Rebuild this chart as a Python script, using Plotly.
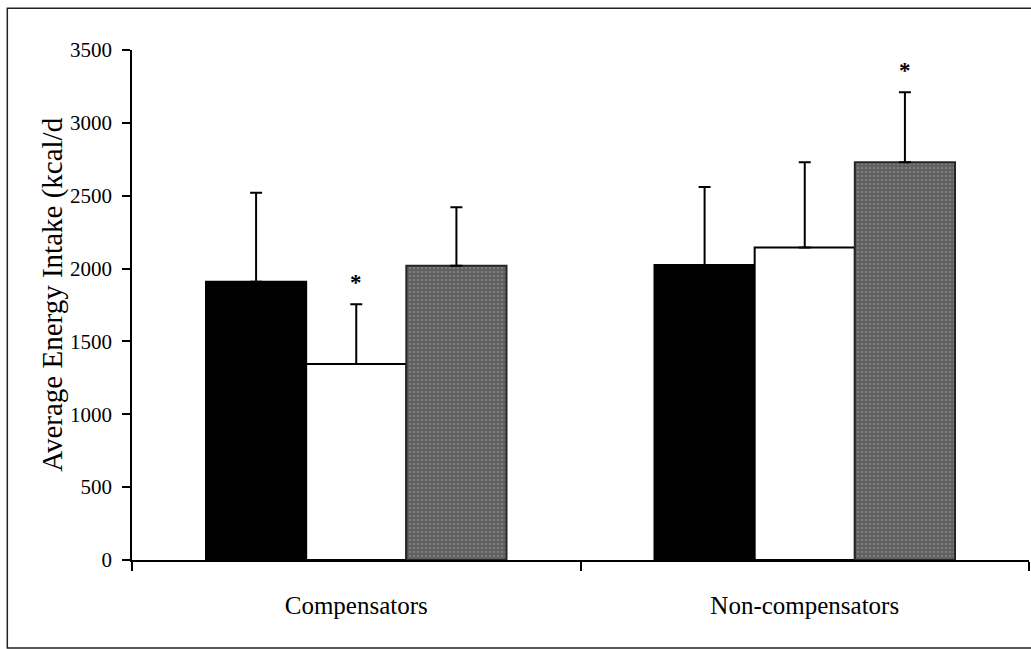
import plotly.graph_objects as go

categories = ["Compensators", "Non-compensators"]
series_names = ["Condition 1", "Condition 2", "Condition 3"]
black_vals = [1910, 2025]
black_sd = [610, 535]
white_vals = [1345, 2145]
white_sd = [410, 585]
gray_vals = [2020, 2730]
gray_sd = [400, 480]
y_ticks = [0, 500, 1000, 1500, 2000, 2500, 3000, 3500]

BARGAP = 0.33
FONT = "Liberation Serif, Times New Roman, serif"

fig = go.Figure()

specs = [
    (black_vals, black_sd, dict(color="#000000", line=dict(color="#000000", width=2))),
    (white_vals, white_sd, dict(color="#ffffff", line=dict(color="#000000", width=2))),
    (gray_vals, gray_sd, dict(color="#5e5e5e", line=dict(color="#262626", width=2),
                              pattern=dict(shape=".", fgcolor="#9a9a9a",
                                           bgcolor="#5e5e5e", size=4,
                                           solidity=0.35))),
]
for name, (vals, sd, marker) in zip(series_names, specs):
    fig.add_trace(go.Bar(
        x=categories, y=vals, name=name, marker=marker,
        error_y=dict(type="data", symmetric=False, array=sd,
                     arrayminus=[0] * len(sd), color="#000000",
                     thickness=2, width=6),
        showlegend=False,
    ))

# significance markers
bar_w = (1 - BARGAP) / 3
fig.add_annotation(x=0, y=white_vals[0] + white_sd[0], text="<b>*</b>",
                   showarrow=False, yanchor="bottom", yshift=7,
                   font=dict(family=FONT, size=23, color="#000000"))
fig.add_annotation(x=1 + bar_w, y=gray_vals[1] + gray_sd[1], text="<b>*</b>",
                   showarrow=False, yanchor="bottom", yshift=7,
                   font=dict(family=FONT, size=23, color="#000000"))

# y-axis title
fig.add_annotation(xref="paper", yref="paper", x=-0.088, y=0.52,
                   text="Average Energy Intake (kcal/d", textangle=-90,
                   showarrow=False, xanchor="center", yanchor="middle",
                   font=dict(family=FONT, size=29, color="#000000"))

# outer frame
fig.add_shape(type="rect", xref="paper", yref="paper",
              x0=-0.139, x1=1.03, y0=-0.1725, y1=1.082,
              line=dict(color="#222222", width=1.5), layer="below")

fig.update_layout(
    barmode="group", bargap=BARGAP, bargroupgap=0,
    width=1031, height=649,
    margin=dict(l=132, r=2, t=50, b=89, autoexpand=False),
    paper_bgcolor="#ffffff", plot_bgcolor="#ffffff",
    font=dict(family=FONT, color="#000000"),
)
fig.update_xaxes(
    showline=True, linecolor="#000000", linewidth=2,
    ticks="outside", tickson="boundaries", ticklen=9, tickwidth=1.5,
    tickcolor="#000000", ticklabelstandoff=22,
    tickfont=dict(family=FONT, size=25, color="#000000"),
    showgrid=False, zeroline=False,
)
fig.update_yaxes(
    range=[0, 3500], tickvals=y_ticks, ticktext=[str(v) for v in y_ticks],
    showline=True, linecolor="#000000", linewidth=1.5,
    ticks="outside", ticklen=8, tickwidth=1.5, tickcolor="#000000",
    ticklabelstandoff=6,
    tickfont=dict(family=FONT, size=21, color="#000000"),
    showgrid=False, zeroline=False,
)

fig.write_html("out.html")
